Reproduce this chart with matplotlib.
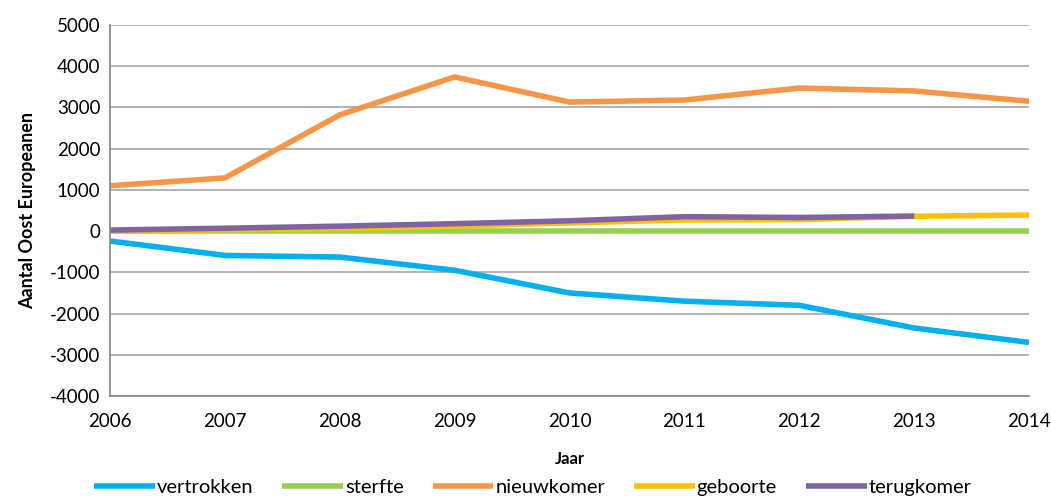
import matplotlib.pyplot as plt

plt.rcParams['font.family'] = ['Lato', 'DejaVu Sans']
plt.rcParams['axes.unicode_minus'] = False

# data
jaren = [2006, 2007, 2008, 2009, 2010, 2011, 2012, 2013, 2014]
vertrokken = [-240, -590, -630, -950, -1500, -1700, -1800, -2350, -2700]
sterfte = [-5, -5, -5, -5, -5, -5, -5, -5, -5]
nieuwkomer = [1100, 1290, 2820, 3740, 3130, 3180, 3470, 3400, 3150]
geboorte = [0, 30, 60, 120, 200, 270, 280, 360, 390]
jaren_terug = [2006, 2007, 2008, 2009, 2010, 2011, 2012, 2013]
terugkomer = [25, 70, 120, 180, 250, 350, 330, 365]

fig = plt.figure(figsize=(10.51, 4.98), dpi=100)
ax = fig.add_axes([110 / 1051, 1 - 396 / 498, (1029 - 110) / 1051, (396 - 25) / 498])

lw = 4
ax.plot(jaren, vertrokken, color='#00b0f0', lw=lw, label='vertrokken', solid_capstyle='butt')
ax.plot(jaren, sterfte, color='#92d050', lw=lw, label='sterfte', solid_capstyle='butt')
ax.plot(jaren, nieuwkomer, color='#f79646', lw=lw, label='nieuwkomer', solid_capstyle='butt')
ax.plot(jaren, geboorte, color='#ffc000', lw=lw, label='geboorte', solid_capstyle='butt')
ax.plot(jaren_terug, terugkomer, color='#8064a2', lw=lw, label='terugkomer', solid_capstyle='butt')

ax.set_xlim(2006, 2014)
ax.set_ylim(-4000, 5000)
ax.set_yticks(range(-4000, 5001, 1000))
ax.set_xticks(jaren)
ax.grid(axis='y', color='#a6a6a6', lw=1.2)
ax.set_axisbelow(True)
for s in ['top', 'right']:
    ax.spines[s].set_visible(False)
for s in ['left', 'bottom']:
    ax.spines[s].set_color('#868686')
    ax.spines[s].set_linewidth(1.2)
ax.tick_params(length=0, labelsize=13.5, pad=7)
ax.tick_params(axis='x', pad=12)

ax.set_xlabel('Jaar', fontsize=12, fontweight='bold', labelpad=15)
ax.set_ylabel('Aantal Oost Europeanen', fontsize=13, fontweight='bold', labelpad=10)

fig.legend(*ax.get_legend_handles_labels(), loc='center', bbox_to_anchor=(0.507, 0.022),
           ncol=5, frameon=False, fontsize=14.5, handlelength=3.0,
           columnspacing=1.45, handletextpad=0.1, borderpad=0)

fig.savefig('out.png', dpi=100)
